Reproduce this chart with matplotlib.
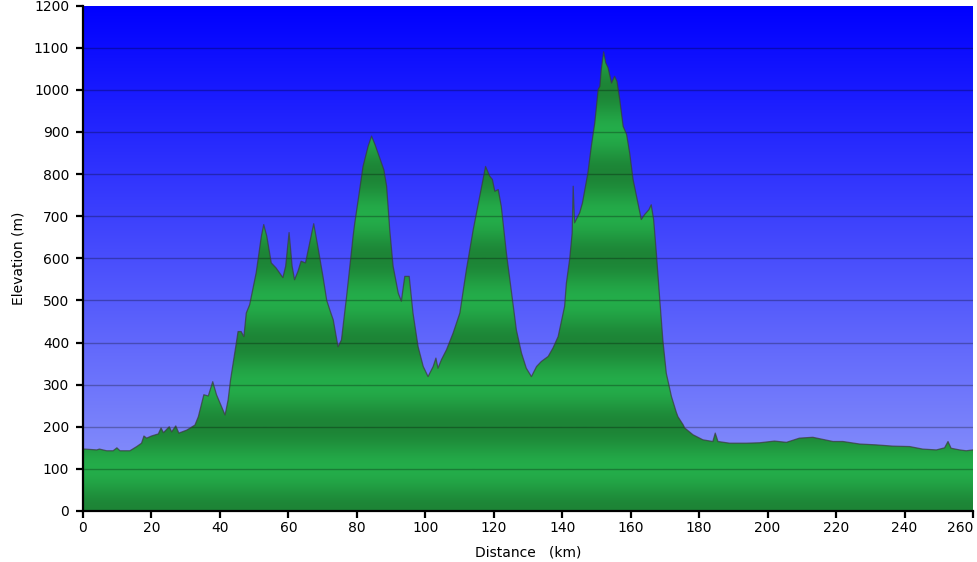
import numpy as np
import matplotlib
matplotlib.use("Agg")
import matplotlib.pyplot as plt
from matplotlib.colors import LinearSegmentedColormap

distance_km = [0, 0.6, 4, 4.8, 6.9, 8.8, 9.9, 10.8, 13.7, 15.7, 17.1, 17.8, 18.6, 20, 22, 22.8,
               23.5, 25.2, 25.9, 27.1, 28, 30.3, 32.7, 33.7, 35.3, 36.6, 37.9, 39, 40, 41.5,
               42.4, 43.1, 44.8, 45.3, 46.2, 47, 47.7, 48.7, 50.6, 52.1, 52.8, 53.7, 55, 56.4,
               58.4, 59.2, 60.2, 61.1, 61.8, 62.8, 63.7, 65, 66.2, 67.4, 68.6, 70.1, 71.2,
               72.2, 73.1, 74.5, 75.5, 77, 78.9, 79.4, 80.4, 81.8, 83.3, 84.3, 85.3, 86.5,
               87.9, 88.7, 89.6, 90.6, 92.1, 93, 94, 95.3, 96.4, 97.9, 99.4, 100.8, 102.3,
               103.1, 103.7, 104.7, 106.2, 108.1, 110.1, 112, 114, 115.9, 117.6, 118.8,
               119.6, 120.3, 121.3, 122.2, 123.7, 125.2, 126.6, 128.1, 129.5, 131, 132.5,
               133.9, 135.9, 137.3, 138.8, 140.7, 141.2, 142.2, 142.9, 143.2, 143.6, 145.1,
               145.9, 146.6, 147.5, 148.5, 149.5, 150.5, 151, 151.4, 152.1, 152.7, 153.4,
               154.4, 155.3, 156, 156.8, 157.8, 158.8, 159.7, 160.7, 162.1, 163.1, 164.1,
               165.3, 166, 166.7, 167.5, 168.5, 169.4, 170.4, 171.9, 173.3, 173.8, 175.3,
               175.8, 178.2, 181.1, 184, 184.7, 185.5, 188.9, 193.8, 197.7, 202, 205.5,
               209.3, 213.2, 216.1, 219.1, 222, 226.9, 231.7, 236.6, 241.5, 245.3, 249.3,
               251.7, 252.7, 253.6, 256.1, 258, 260]
elevation_m = [147, 147, 145, 147, 143, 143, 150, 143, 143, 153, 161, 178, 173, 178, 183, 197,
               186, 200, 188, 202, 185, 192, 204, 224, 276, 273, 307, 276, 257, 228,
               264, 311, 399, 426, 426, 414, 470, 490, 566, 652, 680, 652, 589, 577,
               554, 581, 661, 581, 549, 569, 593, 589, 636, 682, 628, 557, 500,
               475, 454, 390, 406, 509, 652, 684, 739, 818, 866, 890, 870, 842,
               810, 771, 668, 581, 517, 498, 557, 557, 470, 390, 343, 319, 343,
               363, 339, 359, 383, 422, 470, 573, 668, 747, 818, 795,
               787, 759, 763, 723, 612, 517, 430, 375, 339, 319, 343,
               355, 367, 387, 414, 486, 540, 600, 660, 771, 684, 708,
               731, 763, 803, 866, 921, 1001, 1008, 1048, 1090, 1064, 1052,
               1016, 1032, 1020, 977, 913, 894, 850, 787, 731, 692, 704,
               715, 727, 692, 612, 501, 406, 327, 272, 235, 224, 205,
               197, 181, 169, 165, 185, 165, 161, 161, 162, 166, 163,
               173, 175, 170, 165, 165, 159, 157, 154, 153, 147, 145,
               150, 165, 149, 145, 143, 145]

x_ticks = list(range(0, 261, 20))
y_ticks = list(range(0, 1201, 100))

km = np.array(distance_km, dtype=float)
el = np.array(elevation_m, dtype=float)

fig = plt.figure(figsize=(9.78, 5.62), dpi=100)
ax = fig.add_axes([83/978, 51/562, 890/978, 505.5/562])
x0, x1 = 0, 260

# background gradient: light lavender at bottom, pure blue at top
bg = LinearSegmentedColormap.from_list("bg", [(0.57, 0.61, 0.98), (0, 0, 1.0)])
grad = np.linspace(0, 1, 256).reshape(-1, 1)
ax.imshow(grad, cmap=bg, extent=[x0, x1, 0, 1200], origin="lower", aspect="auto",
          zorder=0, interpolation="bicubic")

# green fill with banded gradient
poly = ax.fill(np.r_[km, km[-1], km[0]], np.r_[el, 0, 0], facecolor="none",
               edgecolor="none", zorder=1)[0]
gcm = LinearSegmentedColormap.from_list("gr", ["#1d8436", "#24ad4a"])
yy = np.linspace(0, 1200, 1200).reshape(-1, 1)
band = (1 - np.cos(np.pi * yy / 100.0)) / 2.0
im = ax.imshow(band, cmap=gcm, extent=[x0, x1, 0, 1200], origin="lower",
               aspect="auto", zorder=1, interpolation="bilinear")
im.set_clip_path(poly)
ax.set_ylim(0, 1200)
ax.set_xlim(x0, x1)

ax.plot(km, el, color="#3a3a3a", lw=0.9, alpha=0.7, zorder=3)

for y in y_ticks[1:-1]:
    ax.axhline(y, color="black", alpha=0.28, lw=1, zorder=2)

for s in ["top", "right"]:
    ax.spines[s].set_visible(False)
for s in ["left", "bottom"]:
    ax.spines[s].set_linewidth(1.6)
    ax.spines[s].set_color("black")
    ax.spines[s].set_zorder(5)

ax.set_xticks(x_ticks)
ax.set_yticks(y_ticks)
ax.tick_params(axis="both", direction="out", length=5, width=1.6, labelsize=10,
               colors="black")
ax.tick_params(axis="y", pad=5)
ax.tick_params(axis="x", pad=2)
labels = ax.get_xticklabels()
labels[-1].set_horizontalalignment("right")

ax.set_xlabel("Distance   (km)", fontsize=10, labelpad=8)
ax.set_ylabel("Elevation (m)", fontsize=10, labelpad=6)

fig.savefig("out.png", dpi=100)
